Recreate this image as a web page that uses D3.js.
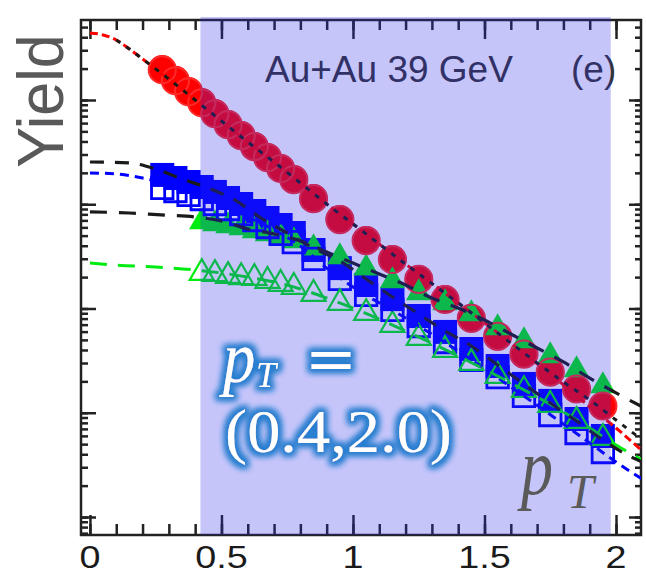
<!DOCTYPE html>
<html>
<head>
<meta charset="utf-8">
<script src="https://cdn.jsdelivr.net/npm/d3@7"></script>
<style>
  body { margin: 0; background: #fff; }
  svg { display: block; }
</style>
</head>
<body>
<svg id="chart"></svg>
<script>
const width = 646, height = 573;

// pT bin centres (GeV/c)
const ptMeson = [0.275, 0.325, 0.375, 0.425, 0.475, 0.525, 0.575, 0.625, 0.675, 0.725, 0.775,
  0.85, 0.95, 1.05, 1.15, 1.25, 1.35, 1.45, 1.55, 1.65, 1.75, 1.85, 1.95];
const ptBaryon = [0.425, 0.475, 0.525, 0.575, 0.625, 0.675, 0.725, 0.775,
  0.85, 0.95, 1.05, 1.15, 1.25, 1.35, 1.45, 1.55, 1.65, 1.75, 1.85, 1.95];

// yields (arbitrary units, log axis)
const piPlus = [19800, 15600, 12200, 9570, 7500, 5890, 4620, 3620, 2840, 2230, 1750,
  1150, 722, 454, 299, 192, 123, 81.1, 54.5, 36.6, 24.6, 16.9, 11.6];
const piMinus = [19500, 15300, 12000, 9400, 7380, 5800, 4550, 3570, 2800, 2200, 1720,
  1130, 712, 448, 295, 190, 122, 80.5, 54.0, 36.5, 24.5, 16.9, 11.6];
const kPlus = [1910, 1786, 1634, 1463, 1312, 1148, 1005, 861, 738, 632, 530,
  364, 244, 168, 123, 84.7, 59.6, 40.9, 28.1, 18.9, 13.0, 8.71, 5.98];
const kMinus = [1432, 1340, 1227, 1122, 1005, 900, 806, 706, 605, 519, 434,
  299, 192, 135, 96.8, 67.9, 47.7, 32.1, 22.0, 14.5, 9.51, 6.39, 4.20];
const proton = [676, 647, 618, 592, 554, 519, 485, 444,
  380, 312, 244, 184, 141, 113, 88.5, 65.0, 48.8, 35.0, 25.7, 18.1];
const pbar = [219, 214, 205, 200, 196, 184, 172, 161,
  138, 113, 90.6, 69.5, 52.1, 40.0, 30.0, 22.5, 16.5, 11.9, 8.33, 5.73];

// fit curves
const fitPiPt = [0, 0.05, 0.1, 0.15, 0.2, 0.25, 0.3, 0.4, 0.5, 0.6, 0.7, 0.8, 0.9, 1.0, 1.2, 1.4, 1.6, 1.8, 1.9, 2.0, 2.1];
const fitPiRed = [44000, 42050, 37640, 30830, 24730, 19820, 15890, 10000, 6290, 3955, 2541, 1600, 1005, 647, 267, 113, 46.7, 18.5, 11.4, 7.14, 4.30];
const modelPiPt = [0.1, 0.15, 0.2, 0.25, 0.3, 0.4, 0.5, 0.6, 0.7, 0.8, 0.9, 1.0, 1.2, 1.4, 1.6, 1.8, 1.9, 2.0, 2.1];
const modelPi = [37640, 30830, 24730, 19820, 15890, 10000, 6290, 3955, 2541, 1600, 1005, 647, 267, 113, 46.7, 19.7, 13.3, 8.52, 5.48];
const modelKPt = [0, 0.15, 0.25, 0.35, 0.45, 0.55, 0.65, 0.75, 0.85, 0.95, 1.05, 1.15, 1.25, 1.35, 1.45, 1.55, 1.65, 1.75, 1.85, 1.95, 2.05, 2.1];
const modelK = [2541, 2488, 2178, 1747, 1432, 1099, 738, 530, 380, 286, 192, 129, 88.5, 60.8, 43.7, 28.7, 18.9, 12.4, 8.33, 5.48, 3.85, 3.37];
const fitKPt = [0, 0.1, 0.2, 0.3, 0.4, 0.5, 0.6, 0.7, 0.8, 0.9, 1.0, 1.2, 1.4, 1.6, 1.8, 1.9, 2.0, 2.1];
const fitKBlue = [1995, 1950, 1786, 1531, 1200, 962, 755, 566, 398, 244, 161, 81.1, 39.1, 17.7, 7.80, 5.13, 3.37, 2.31];
const modelPPt = [0, 0.15, 0.27, 0.4, 0.5, 0.6, 0.7, 0.8, 0.9, 1.0, 1.1, 1.2, 1.3, 1.4, 1.5, 1.6, 1.7, 1.8, 1.9, 2.0, 2.1];
const modelP = [843, 824, 789, 755, 691, 579, 519, 444, 348, 273, 214, 168, 126, 101, 77.6, 56.9, 41.8, 30.7, 21.5, 15.5, 11.4];
const fitPbarPt = [0, 0.1, 0.25, 0.4, 0.5, 0.6, 0.7, 0.8, 0.9, 1.0, 1.2, 1.4, 1.6, 1.8, 1.9, 2.0, 2.1];
const fitPbarGreen = [273, 261, 250, 234, 219, 200, 180, 154, 126, 101, 60.8, 35.0, 19.3, 10.2, 7.14, 4.91, 3.52];

const xTickLabels = ["0", "0.5", "1", "1.5", "2"];
const fitRange = [0.42, 1.98];

const svg = d3.select("#chart").attr("width", width).attr("height", height);
svg.append("rect").attr("width", width).attr("height", height).attr("fill", "#fff");

const x = d3.scaleLinear().domain([-0.034, 2.095]).range([81, 641]);
const y = d3.scaleLog().domain([0.672, 58500]).range([535, 20]);

const defs = svg.append("defs");
defs.append("clipPath").attr("id", "plotClip")
  .append("rect").attr("x", 81).attr("y", 20).attr("width", 560).attr("height", 515);

const glow = defs.append("filter").attr("id", "glow")
  .attr("x", "-30%").attr("y", "-30%").attr("width", "160%").attr("height", "160%");
glow.append("feMorphology").attr("in", "SourceAlpha").attr("operator", "dilate").attr("radius", 3).attr("result", "thick");
glow.append("feGaussianBlur").attr("in", "thick").attr("stdDeviation", 3).attr("result", "blur");
glow.append("feFlood").attr("flood-color", "#2a7fd0").attr("result", "col");
glow.append("feComposite").attr("in", "col").attr("in2", "blur").attr("operator", "in").attr("result", "halo");
const merge = glow.append("feMerge");
merge.append("feMergeNode").attr("in", "halo");
merge.append("feMergeNode").attr("in", "halo");
merge.append("feMergeNode").attr("in", "SourceGraphic");

// axes
const axisStyle = (g) => {
  g.select(".domain").remove();
  g.selectAll(".tick line").attr("stroke", "#222").attr("stroke-width", 2.5);
};
const xMajor = x.ticks(5);
const xMinor = x.ticks(20);
const yAll = y.ticks();
const yMajor = yAll.filter((v) => Math.abs(Math.log10(v) - Math.round(Math.log10(v))) < 1e-9);

svg.append("g").attr("transform", "translate(0,535)")
  .call(d3.axisBottom(x).tickValues(xMinor).tickSize(-11).tickFormat("")).call(axisStyle);
svg.append("g").attr("transform", "translate(0,535)")
  .call(d3.axisBottom(x).tickValues(xMajor).tickSize(-20).tickFormat("")).call(axisStyle);
svg.append("g").attr("transform", "translate(0,20)")
  .call(d3.axisTop(x).tickValues(xMinor).tickSize(-10).tickFormat("")).call(axisStyle);
svg.append("g").attr("transform", "translate(0,20)")
  .call(d3.axisTop(x).tickValues(xMajor).tickSize(-19).tickFormat("")).call(axisStyle);
svg.append("g").attr("transform", "translate(81,0)")
  .call(d3.axisLeft(y).tickValues(yAll).tickSize(-7).tickFormat("")).call(axisStyle);
svg.append("g").attr("transform", "translate(81,0)")
  .call(d3.axisLeft(y).tickValues(yMajor).tickSize(-15).tickFormat("")).call(axisStyle);
svg.append("g").attr("transform", "translate(641,0)")
  .call(d3.axisRight(y).tickValues(yAll).tickSize(-6).tickFormat("")).call(axisStyle);
svg.append("g").attr("transform", "translate(641,0)")
  .call(d3.axisRight(y).tickValues(yMajor).tickSize(-12).tickFormat("")).call(axisStyle);

svg.append("rect").attr("x", 81).attr("y", 20).attr("width", 560).attr("height", 515)
  .attr("fill", "none").attr("stroke", "#222").attr("stroke-width", 2.5);

svg.append("g").selectAll("text").data(xMajor).join("text")
  .attr("transform", (d) => `translate(${x(d)},568) scale(1.18,1)`)
  .attr("text-anchor", "middle")
  .attr("font-family", "'Liberation Sans', Arial, sans-serif")
  .attr("font-size", 32).attr("fill", "#1a1a1a")
  .text((d, i) => xTickLabels[i]);

svg.append("text").attr("transform", "translate(63,101) rotate(-90) scale(0.94,1)")
  .attr("text-anchor", "middle")
  .attr("font-family", "'Liberation Sans', Arial, sans-serif")
  .attr("font-size", 65).attr("fill", "#595959").text("Yield");

// data
const plot = svg.append("g").attr("clip-path", "url(#plotClip)");
const sym = (type, size) => d3.symbol().type(type).size(size);

function drawMarkers(pts, vals, shape, style) {
  plot.append("g").selectAll("path")
    .data(pts.map((p, i) => ({ pt: p, v: vals[i] })))
    .join("path")
    .attr("transform", (d) => `translate(${x(d.pt)},${y(d.v)})`)
    .attr("d", shape)
    .attr("fill", style.fill)
    .attr("stroke", style.stroke || "none")
    .attr("stroke-width", style.width || 0);
}

const green = "#00ec10";
drawMarkers(ptMeson, piPlus, sym(d3.symbolCircle, 616), { fill: "#ff0000" });
drawMarkers(ptMeson, kPlus, sym(d3.symbolSquare, 576), { fill: "#0000ff" });
drawMarkers(ptBaryon, proton, sym(d3.symbolTriangle, 280), { fill: green });
drawMarkers(ptMeson, kMinus, sym(d3.symbolSquare, 462), { fill: "none", stroke: "#0000ff", width: 2.8 });
drawMarkers(ptBaryon, pbar, sym(d3.symbolTriangle, 250), { fill: "none", stroke: green, width: 2.2 });
drawMarkers(ptMeson, piMinus, sym(d3.symbolCircle, 580), { fill: "none", stroke: "#ff2a2a", width: 2 });

const line = d3.line().x((d) => x(d[0])).y((d) => y(d[1])).curve(d3.curveMonotoneX);
function drawCurve(pts, vals, color, dash, w) {
  plot.append("path")
    .attr("d", line(pts.map((p, i) => [p, vals[i]])))
    .attr("fill", "none").attr("stroke", color)
    .attr("stroke-width", w).attr("stroke-dasharray", dash);
}
drawCurve(fitPiPt, fitPiRed, "#ff0000", "8,4", 3);
drawCurve(fitKPt, fitKBlue, "#0000ff", "9,6", 3);
drawCurve(fitPbarPt, fitPbarGreen, green, "17,11", 3);
drawCurve(modelPiPt, modelPi, "#1a1a1a", "5,7", 3);
drawCurve(modelKPt, modelK, "#1a1a1a", "14,11", 3.2);
drawCurve(modelPPt, modelP, "#1a1a1a", "17,12", 3.2);

svg.append("text").attr("x", 265).attr("y", 82)
  .attr("font-family", "'Liberation Sans', Arial, sans-serif")
  .attr("font-size", 37).attr("fill", "#333").text("Au+Au 39 GeV");
svg.append("text").attr("x", 571).attr("y", 82)
  .attr("font-family", "'Liberation Sans', Arial, sans-serif")
  .attr("font-size", 37).attr("fill", "#333").text("(e)");

// fit window highlight
svg.append("rect")
  .attr("x", x(fitRange[0])).attr("y", 17)
  .attr("width", x(fitRange[1]) - x(fitRange[0])).attr("height", 518)
  .attr("fill", "rgb(45,45,235)").attr("fill-opacity", 0.276);

// annotations
const serif = "'Liberation Serif', 'DejaVu Serif', serif";
const note = svg.append("g").attr("filter", "url(#glow)").attr("fill", "#fff");
note.append("text").attr("transform", "translate(223,382) scale(0.9,1)").attr("font-family", serif)
  .attr("font-style", "italic").attr("font-size", 72).text("p");
note.append("text").attr("x", 256).attr("y", 387).attr("font-family", serif)
  .attr("font-style", "italic").attr("font-size", 36).text("T");
note.append("text").attr("x", 331).attr("y", 380).attr("text-anchor", "middle")
  .attr("font-family", "'DejaVu Serif', serif").attr("font-size", 62).text("=");
note.append("text").attr("x", 225).attr("y", 452).attr("font-family", serif)
  .attr("font-size", 62).attr("textLength", 227).attr("lengthAdjust", "spacingAndGlyphs")
  .text("(0.4,2.0)");

const axisTitle = svg.append("g").attr("fill", "#5a5a5a").attr("font-family", serif).attr("font-style", "italic");
axisTitle.append("text").attr("transform", "translate(521,494) scale(0.8,1)")
  .attr("font-size", 80).text("p");
axisTitle.append("text").attr("x", 567).attr("y", 508).attr("font-size", 48).text("T");
</script>
</body>
</html>
